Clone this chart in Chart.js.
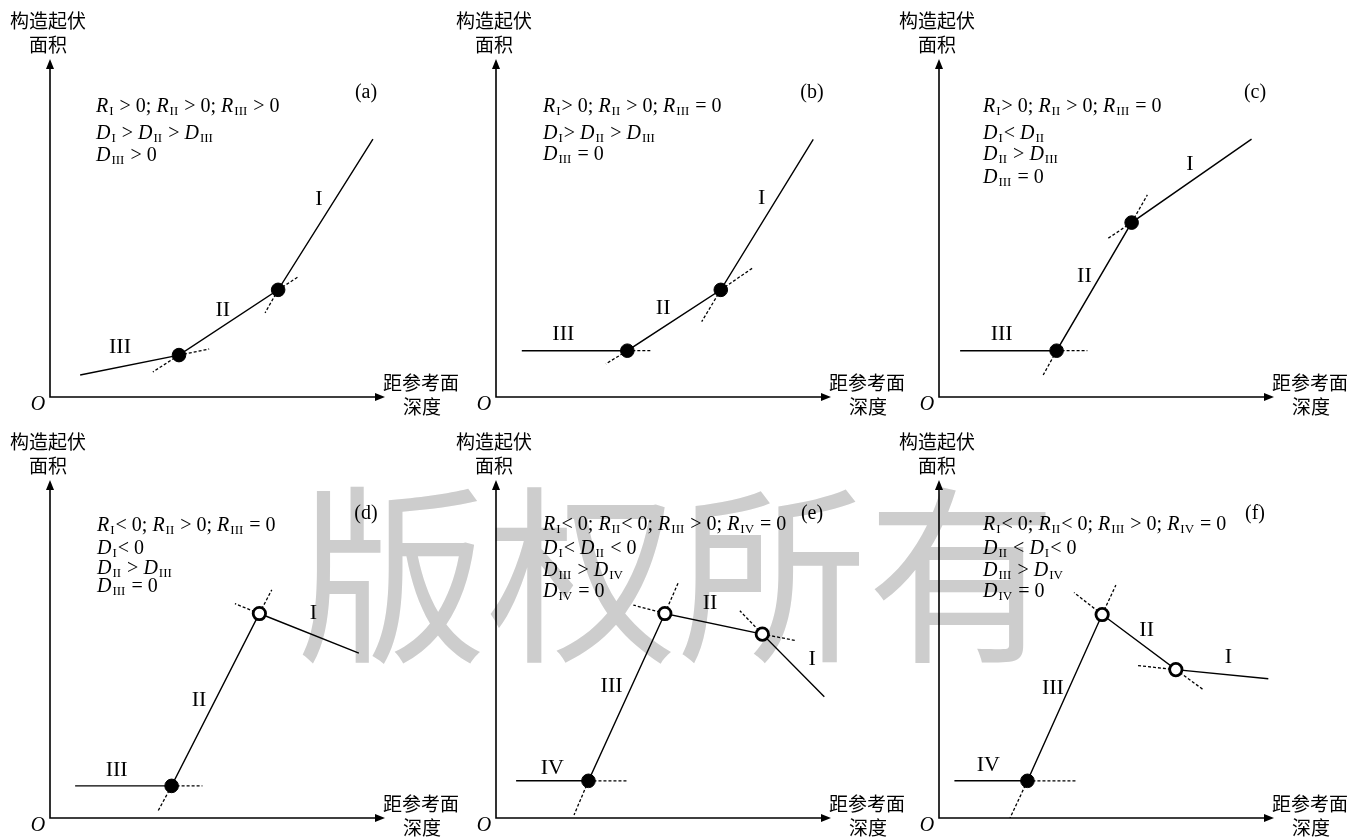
<!DOCTYPE html>
<html>
<head>
<meta charset="utf-8">
<script src="https://cdn.jsdelivr.net/npm/chart.js@4.4.1/dist/chart.umd.min.js"></script>
<style>
  html, body { margin: 0; padding: 0; background: #fff; width: 1367px; height: 839px; overflow: hidden; position: relative; }
  #wm { position: absolute; left: 297px; top: 470px; font-family: "Noto Sans CJK SC"; font-size: 190px; line-height: 1; color: #cdcdcd; white-space: nowrap; }
  canvas { position: absolute; }
</style>
</head>
<body>
<div id="wm">版权所有</div>

<script>
// --- data: vertices of each piecewise curve, in axis units (0-100 on both axes) ---
// (a)
const aX = [9.0, 38.5, 68.1, 96.4];
const aY = [6.5, 12.4, 31.7, 76.3];
const aOpen = [false, false];
const aTanX = [[30.7, 47.5], [64.2, 74.0]];
const aTanY = [[7.4, 14.2], [24.9, 35.5]];
const aSeg = ['III', 'II', 'I'];
const aSegX = [20.9, 51.6, 80.3];
const aSegY = [14.8, 25.7, 58.6];
const aNotes = ['R_{I} > 0; R_{II} > 0; R_{III} > 0', 'D_{I} > D_{II} > D_{III}', 'D_{III} > 0'];

// (b)
const bX = [7.7, 39.2, 67.1, 94.7];
const bY = [13.7, 13.7, 31.7, 76.2];
const bOpen = [false, false];
const bTanX = [[32.8, 46.2], [61.4, 76.8]];
const bTanY = [[9.8, 13.7], [22.3, 38.3]];
const bSeg = ['III', 'II', 'I'];
const bSegX = [20.1, 49.9, 79.3];
const bSegY = [18.5, 26.2, 58.8];
const bNotes = ['R_{I}> 0; R_{II} > 0; R_{III} = 0', 'D_{I}> D_{II} > D_{III}', 'D_{III} = 0'];

// (c)
const cX = [6.3, 35.1, 57.5, 93.3];
const cY = [13.7, 13.7, 51.6, 76.3];
const cOpen = [false, false];
const cTanX = [[31.1, 44.3], [50.1, 62.2]];
const cTanY = [[6.5, 13.7], [46.7, 59.8]];
const cSeg = ['III', 'II', 'I'];
const cSegX = [18.7, 43.4, 74.9];
const cSegY = [18.5, 35.8, 68.8];
const cNotes = ['R_{I}> 0; R_{II} > 0; R_{III} = 0', 'D_{I}< D_{II}', 'D_{II} > D_{III}', 'D_{III} = 0'];

// (d)
const dX = [7.5, 36.3, 62.5, 92.2];
const dY = [9.5, 9.5, 60.5, 48.8];
const dOpen = [false, true];
const dTanX = [[32.1, 45.5], [66.2, 55.2]];
const dTanY = [[1.8, 9.5], [67.5, 63.4]];
const dSeg = ['III', 'II', 'I'];
const dSegX = [19.9, 44.5, 78.6];
const dSegY = [14.0, 34.7, 60.5];
const dNotes = ['R_{I}< 0; R_{II} > 0; R_{III} = 0', 'D_{I}< 0', 'D_{II} > D_{III}', 'D_{III} = 0'];

// (e)
const eX = [6.0, 27.6, 50.4, 79.5, 98.0];
const eY = [11.0, 11.0, 60.5, 54.4, 35.9];
const eOpen = [false, true, true];
const eTanX = [[23.3, 39.0], [54.4, 41.0], [89.5, 72.8]];
const eTanY = [[0.9, 11.0], [69.6, 63.0], [52.5, 61.3]];
const eSeg = ['IV', 'III', 'II', 'I'];
const eSegX = [16.8, 34.5, 63.9, 94.4];
const eSegY = [14.7, 39.1, 63.4, 47.0];
const eNotes = ['R_{I}< 0; R_{II}< 0; R_{III} > 0; R_{IV} = 0', 'D_{I}< D_{II} < 0', 'D_{III} > D_{IV}', 'D_{IV} = 0'];

// (f)
const fX = [4.6, 26.4, 48.7, 70.7, 98.3];
const fY = [11.0, 11.0, 60.2, 43.9, 41.2];
const fOpen = [false, true, true];
const fTanX = [[21.2, 41.1], [52.8, 40.3], [78.7, 59.2]];
const fTanY = [[0.0, 11.0], [68.9, 66.7], [38.1, 45.1]];
const fSeg = ['IV', 'III', 'II', 'I'];
const fSegX = [14.7, 34.0, 62.0, 86.4];
const fSegY = [15.7, 38.4, 55.6, 47.7];
const fNotes = ['R_{I}< 0; R_{II}< 0; R_{III} > 0; R_{IV} = 0', 'D_{II} < D_{I}< 0', 'D_{III} > D_{IV}', 'D_{IV} = 0'];

const yTitle = ['构造起伏', '面积'];
const xTitle = ['距参考面', '深度'];

const panels = [
  { tag: '(a)', x: aX, y: aY, open: aOpen, tx: aTanX, ty: aTanY, seg: aSeg, sx: aSegX, sy: aSegY, notes: aNotes },
  { tag: '(b)', x: bX, y: bY, open: bOpen, tx: bTanX, ty: bTanY, seg: bSeg, sx: bSegX, sy: bSegY, notes: bNotes },
  { tag: '(c)', x: cX, y: cY, open: cOpen, tx: cTanX, ty: cTanY, seg: cSeg, sx: cSegX, sy: cSegY, notes: cNotes },
  { tag: '(d)', x: dX, y: dY, open: dOpen, tx: dTanX, ty: dTanY, seg: dSeg, sx: dSegX, sy: dSegY, notes: dNotes },
  { tag: '(e)', x: eX, y: eY, open: eOpen, tx: eTanX, ty: eTanY, seg: eSeg, sx: eSegX, sy: eSegY, notes: eNotes },
  { tag: '(f)', x: fX, y: fY, open: fOpen, tx: fTanX, ty: fTanY, seg: fSeg, sx: fSegX, sy: fSegY, notes: fNotes }
];

// --- layout (pixels) ---
const origins = [[50, 397], [496, 397], [939, 397], [50, 818], [496, 818], [939, 818]];
const AX_W = 335, AX_H = 338;
const PAD = { left: 50, top: 60, right: 85, bottom: 25 };
const noteDx = [46, 47, 44, 47, 47, 44];
const noteLines = [
  [46, 73, 95], [46, 73, 94], [46, 73, 94, 117],
  [44, 67, 87, 105], [43, 67, 89, 110], [43, 67, 89, 110]
];
const SERIF = '"Liberation Serif", "Times New Roman", serif';
const CJK = '"Noto Sans CJK SC", sans-serif';

function drawRich(ctx, str, x, y) {
  // letters R and D italic, _{..} as subscript
  let cx = x;
  str.split(/(_\{[^}]*\})/).forEach(part => {
    if (!part) return;
    if (part[0] === '_') {
      const s = part.slice(2, -1);
      ctx.font = '13px ' + SERIF;
      ctx.fillText(s, cx + 1, y + 3.5);
      cx += ctx.measureText(s).width + 2;
      return;
    }
    part.split(/([RD])/).forEach(run => {
      if (!run) return;
      ctx.font = (run === 'R' || run === 'D' ? 'italic ' : '') + '20px ' + SERIF;
      ctx.fillText(run, cx, y);
      cx += ctx.measureText(run).width;
    });
  });
}

function arrowHead(ctx, x, y, dir) {
  ctx.beginPath();
  if (dir === 'up') { ctx.moveTo(x, y); ctx.lineTo(x - 4, y + 10); ctx.lineTo(x + 4, y + 10); }
  else { ctx.moveTo(x, y); ctx.lineTo(x - 10, y - 4); ctx.lineTo(x - 10, y + 4); }
  ctx.closePath();
  ctx.fill();
}

const framePlugin = {
  id: 'frame',
  beforeDatasetsDraw(chart, args, opts) {
    const { ctx, chartArea: a } = chart;
    const p = opts.panel, i = opts.index;
    ctx.save();
    ctx.strokeStyle = '#000';
    ctx.fillStyle = '#000';
    ctx.lineWidth = 1.6;
    ctx.beginPath();
    ctx.moveTo(a.left, a.top + 6);
    ctx.lineTo(a.left, a.bottom);
    ctx.lineTo(a.right - 6, a.bottom);
    ctx.stroke();
    arrowHead(ctx, a.left, a.top, 'up');
    arrowHead(ctx, a.right, a.bottom, 'right');

    // axis titles
    ctx.font = '19px ' + CJK;
    ctx.textAlign = 'center';
    ctx.textBaseline = 'middle';
    ctx.fillText(yTitle[0], a.left - 2, a.top - 38);
    ctx.fillText(yTitle[1], a.left - 2, a.top - 14);
    ctx.fillText(xTitle[0], a.right + 36, a.bottom - 14);
    ctx.fillText(xTitle[1], a.right + 37, a.bottom + 10);

    ctx.font = 'italic 20px ' + SERIF;
    ctx.fillText('O', a.left - 12, a.bottom + 8);

    ctx.font = '20px ' + SERIF;
    ctx.fillText(p.tag, a.left + 316, a.top + 34);

    // segment numerals
    ctx.font = '22px ' + SERIF;
    const xs = chart.scales.x, ys = chart.scales.y;
    p.seg.forEach((s, k) => ctx.fillText(s, xs.getPixelForValue(p.sx[k]), ys.getPixelForValue(p.sy[k])));

    // condition notes
    ctx.textAlign = 'left';
    ctx.textBaseline = 'alphabetic';
    p.notes.forEach((n, k) => drawRich(ctx, n, a.left + noteDx[i], a.top + noteLines[i][k] + 6.5));
    ctx.restore();
  }
};

panels.forEach((p, i) => {
  const [ox, oy] = origins[i];
  const cv = document.createElement('canvas');
  const w = PAD.left + AX_W + PAD.right, h = PAD.top + AX_H + PAD.bottom;
  cv.width = w; cv.height = h;
  cv.style.left = (ox - PAD.left) + 'px';
  cv.style.top = (oy - AX_H - PAD.top) + 'px';
  document.body.appendChild(cv);

  const curve = p.x.map((v, k) => ({ x: v, y: p.y[k] }));
  const dots = curve.slice(1, 1 + p.open.length);
  const datasets = [
    {
      label: 'breaks',
      data: dots,
      showLine: false,
      order: 0,
      pointRadius: ctx => p.open[ctx.dataIndex] ? 6.2 : 6.8,
      pointBackgroundColor: ctx => p.open[ctx.dataIndex] ? '#fff' : '#000',
      pointBorderColor: '#000',
      pointBorderWidth: ctx => p.open[ctx.dataIndex] ? 2.8 : 1
    },
    {
      label: 'curve',
      data: curve,
      showLine: true,
      order: 1,
      borderColor: '#000',
      borderWidth: 1.4,
      pointRadius: 0
    }
  ];
  dots.forEach((d, k) => {
    [0, 1].forEach(j => {
      datasets.push({
        label: 'tangent',
        data: [d, { x: p.tx[k][j], y: p.ty[k][j] }],
        showLine: true,
        order: 2,
        borderColor: '#000',
        borderWidth: 1.3,
        borderDash: [3, 2],
        pointRadius: 0
      });
    });
  });

  new Chart(cv, {
    type: 'scatter',
    data: { datasets },
    options: {
      responsive: false,
      animation: false,
      devicePixelRatio: 1,
      layout: { padding: PAD },
      plugins: { legend: { display: false }, tooltip: { enabled: false }, frame: { panel: p, index: i } },
      scales: {
        x: { type: 'linear', min: 0, max: 100, display: false },
        y: { type: 'linear', min: 0, max: 100, display: false }
      }
    },
    plugins: [framePlugin]
  });
});
</script>
</body>
</html>
